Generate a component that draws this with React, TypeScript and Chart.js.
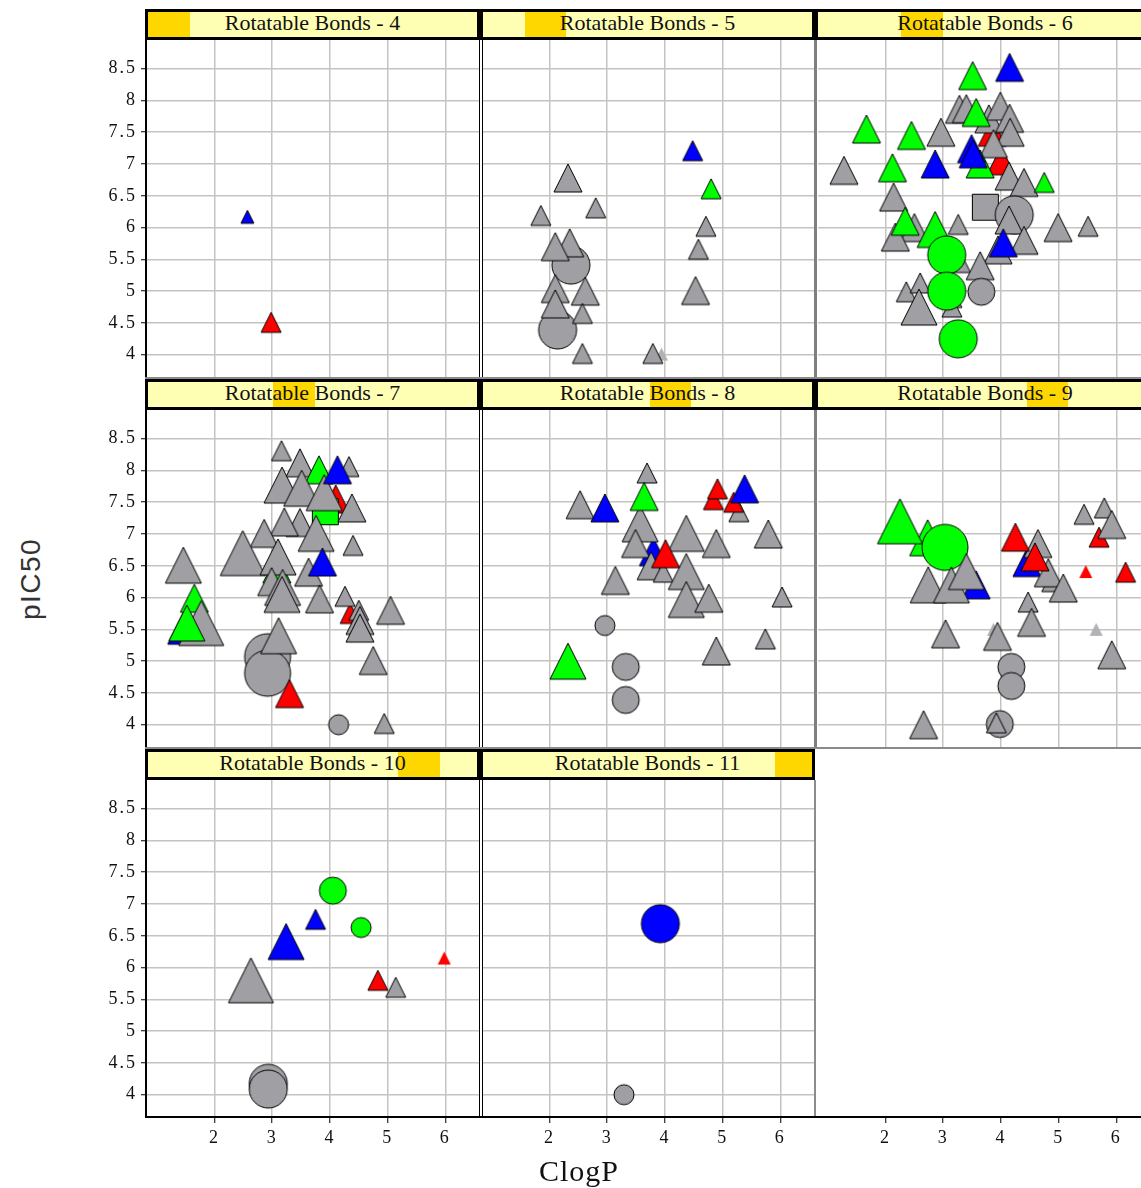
import React, { useEffect, useRef } from 'react';
import { Chart, registerables } from 'chart.js';

Chart.register(...registerables);

// [ClogP, pIC50, sizeClass(0-4), colour (g grey, G green, B blue, R red), shape (t triangle, c circle, s square; upper case = no outline)]
type Pt = [number, number, number, string, string];

const X_TICKS = [2, 3, 4, 5, 6];
const Y_TICKS = [4, 4.5, 5, 5.5, 6, 6.5, 7, 7.5, 8, 8.5];
const X_MIN = 0.83;
const X_MAX = 6.6;
const Y_MIN = 3.65;
const Y_MAX = 8.95;
const BOND_COUNTS = [4, 5, 6, 7, 8, 9, 10, 11];
const X_TITLE = 'ClogP';
const Y_TITLE = 'pIC50';

const rb4: Pt[] = [
  [2.57, 6.17, 0, 'B', 't'],
  [2.98, 4.51, 1, 'R', 't'],
];

const rb5: Pt[] = [
  [2.37, 5.41, 3, 'g', 'c'],
  [2.14, 4.39, 3, 'g', 'c'],
  [1.85, 6.19, 1, 'g', 't'],
  [2.32, 6.78, 2, 'g', 't'],
  [2.80, 6.31, 1, 'g', 't'],
  [2.35, 5.76, 2, 'g', 't'],
  [2.10, 5.70, 2, 'g', 't'],
  [2.62, 5.00, 2, 'g', 't'],
  [2.10, 5.04, 2, 'g', 't'],
  [2.10, 4.80, 2, 'g', 't'],
  [2.57, 4.65, 1, 'g', 't'],
  [2.57, 4.02, 1, 'g', 't'],
  [3.94, 4.01, 0, 'g', 'T'],
  [3.79, 4.02, 1, 'g', 't'],
  [4.53, 5.01, 2, 'g', 't'],
  [4.58, 5.66, 1, 'g', 't'],
  [4.71, 6.02, 1, 'g', 't'],
  [4.80, 6.61, 1, 'G', 't'],
  [4.48, 7.21, 1, 'B', 't'],
];

const rb6: Pt[] = [
  [3.85, 7.50, 2, 'R', 't'],
  [4.00, 7.05, 2, 'R', 't'],
  [1.28, 6.90, 2, 'g', 't'],
  [2.14, 6.48, 2, 'g', 't'],
  [2.50, 6.00, 2, 'g', 't'],
  [2.17, 5.85, 2, 'g', 't'],
  [3.26, 6.05, 1, 'g', 't'],
  [2.96, 7.50, 2, 'g', 't'],
  [3.28, 7.86, 2, 'g', 't'],
  [3.40, 7.87, 2, 'g', 't'],
  [3.79, 7.71, 2, 'g', 't'],
  [3.99, 7.91, 2, 'g', 't'],
  [4.15, 7.72, 2, 'g', 't'],
  [4.16, 7.50, 2, 'g', 't'],
  [3.87, 7.32, 2, 'g', 't'],
  [4.14, 6.81, 2, 'g', 't'],
  [4.40, 6.71, 2, 'g', 't'],
  [3.73, 6.32, 2, 'g', 's'],
  [4.23, 6.20, 3, 'g', 'c'],
  [4.14, 6.12, 2, 'g', 't'],
  [4.99, 6.00, 2, 'g', 't'],
  [5.51, 6.02, 1, 'g', 't'],
  [3.95, 5.65, 2, 'g', 't'],
  [4.40, 5.80, 2, 'g', 't'],
  [3.30, 5.45, 1, 'g', 't'],
  [3.64, 5.40, 2, 'g', 't'],
  [3.66, 4.99, 2, 'g', 'c'],
  [2.36, 4.99, 1, 'g', 't'],
  [2.60, 5.13, 1, 'g', 't'],
  [3.15, 4.90, 1, 'g', 't'],
  [3.15, 4.75, 1, 'g', 't'],
  [2.58, 4.75, 3, 'g', 't'],
  [1.67, 7.55, 2, 'G', 't'],
  [2.45, 7.45, 2, 'G', 't'],
  [2.12, 6.94, 2, 'G', 't'],
  [2.86, 7.00, 2, 'B', 't'],
  [3.51, 8.39, 2, 'G', 't'],
  [4.15, 8.52, 2, 'B', 't'],
  [3.57, 7.81, 2, 'G', 't'],
  [3.64, 7.00, 2, 'G', 't'],
  [3.49, 7.24, 2, 'B', 't'],
  [3.52, 7.16, 2, 'B', 't'],
  [4.75, 6.71, 1, 'G', 't'],
  [2.34, 6.10, 2, 'G', 't'],
  [2.86, 5.97, 3, 'G', 't'],
  [4.04, 5.76, 2, 'B', 't'],
  [3.06, 5.57, 3, 'G', 'c'],
  [3.06, 5.00, 3, 'G', 'c'],
  [3.26, 4.25, 3, 'G', 'c'],
];

const rb7: Pt[] = [
  [4.10, 7.55, 2, 'R', 't'],
  [3.08, 6.45, 2, 'G', 't'],
  [1.50, 5.55, 3, 'B', 't'],
  [3.92, 7.35, 2, 'G', 's'],
  [4.35, 5.75, 1, 'R', 't'],
  [3.16, 8.31, 1, 'g', 't'],
  [3.48, 8.12, 2, 'g', 't'],
  [4.33, 8.06, 1, 'g', 't'],
  [3.81, 8.01, 2, 'G', 't'],
  [3.17, 7.77, 3, 'g', 't'],
  [3.51, 7.72, 3, 'g', 't'],
  [3.90, 7.65, 3, 'g', 't'],
  [4.38, 7.41, 2, 'g', 't'],
  [3.48, 7.18, 2, 'g', 't'],
  [3.21, 7.19, 2, 'g', 't'],
  [2.86, 7.01, 2, 'g', 't'],
  [3.76, 7.01, 3, 'g', 't'],
  [4.40, 6.82, 1, 'g', 't'],
  [2.49, 6.70, 4, 'g', 't'],
  [3.10, 6.64, 3, 'g', 't'],
  [1.46, 6.51, 3, 'g', 't'],
  [3.63, 6.40, 2, 'g', 't'],
  [2.99, 6.25, 2, 'g', 't'],
  [3.18, 6.16, 3, 'g', 't'],
  [3.17, 6.05, 3, 'g', 't'],
  [3.82, 5.98, 2, 'g', 't'],
  [4.26, 6.02, 1, 'g', 't'],
  [4.50, 5.80, 1, 'g', 't'],
  [4.52, 5.64, 2, 'g', 't'],
  [4.52, 5.52, 2, 'g', 't'],
  [5.05, 5.80, 2, 'g', 't'],
  [1.65, 5.99, 2, 'G', 't'],
  [1.77, 5.60, 4, 'g', 't'],
  [2.92, 5.07, 4, 'g', 'c'],
  [2.92, 4.81, 4, 'g', 'c'],
  [3.11, 5.40, 3, 'g', 't'],
  [4.75, 5.01, 2, 'g', 't'],
  [4.15, 4.00, 1, 'g', 'c'],
  [4.94, 4.02, 1, 'g', 't'],
  [4.13, 8.01, 2, 'B', 't'],
  [3.87, 6.56, 2, 'B', 't'],
  [1.52, 5.60, 3, 'G', 't'],
  [3.30, 4.49, 2, 'R', 't'],
];

const rb8: Pt[] = [
  [3.80, 6.72, 2, 'B', 't'],
  [3.69, 7.96, 1, 'g', 't'],
  [2.53, 7.46, 2, 'g', 't'],
  [5.28, 7.35, 1, 'g', 't'],
  [3.57, 7.16, 3, 'g', 't'],
  [5.79, 7.00, 2, 'g', 't'],
  [4.37, 7.01, 3, 'g', 't'],
  [4.89, 6.85, 2, 'g', 't'],
  [3.49, 6.85, 2, 'g', 't'],
  [3.76, 6.50, 2, 'g', 't'],
  [3.97, 6.40, 1, 'g', 't'],
  [4.37, 6.41, 3, 'g', 't'],
  [4.37, 5.97, 3, 'g', 't'],
  [4.76, 5.99, 2, 'g', 't'],
  [3.14, 6.27, 2, 'g', 't'],
  [6.03, 6.01, 1, 'g', 't'],
  [2.96, 5.56, 1, 'g', 'c'],
  [5.74, 5.35, 1, 'g', 't'],
  [4.89, 5.16, 2, 'g', 't'],
  [3.32, 4.91, 2, 'g', 'c'],
  [3.32, 4.39, 2, 'g', 'c'],
  [2.96, 7.41, 2, 'B', 't'],
  [3.64, 7.59, 2, 'G', 't'],
  [4.84, 7.54, 1, 'R', 't'],
  [4.91, 7.71, 1, 'R', 't'],
  [5.19, 7.50, 1, 'R', 't'],
  [5.38, 7.71, 2, 'B', 't'],
  [4.01, 6.69, 2, 'R', 't'],
  [2.32, 5.00, 3, 'G', 't'],
];

const rb9: Pt[] = [
  [3.57, 6.20, 2, 'B', 't'],
  [4.45, 6.55, 2, 'B', 't'],
  [2.73, 6.94, 3, 'G', 't'],
  [3.87, 5.50, 0, 'g', 'T'],
  [2.25, 7.20, 4, 'G', 't'],
  [3.03, 6.79, 4, 'G', 'c'],
  [2.74, 6.20, 3, 'g', 't'],
  [3.14, 6.20, 3, 'g', 't'],
  [3.40, 6.41, 3, 'g', 't'],
  [4.64, 6.85, 2, 'g', 't'],
  [4.88, 6.25, 1, 'g', 't'],
  [4.82, 6.39, 2, 'g', 't'],
  [5.08, 6.15, 2, 'g', 't'],
  [5.44, 7.31, 1, 'g', 't'],
  [5.79, 7.41, 1, 'g', 't'],
  [4.47, 5.93, 1, 'g', 't'],
  [4.53, 5.61, 2, 'g', 't'],
  [3.04, 5.43, 2, 'g', 't'],
  [3.94, 5.39, 2, 'g', 't'],
  [5.65, 5.50, 0, 'g', 'T'],
  [5.92, 5.10, 2, 'g', 't'],
  [4.18, 4.91, 2, 'g', 'c'],
  [4.18, 4.61, 2, 'g', 'c'],
  [2.66, 4.00, 2, 'g', 't'],
  [3.98, 4.01, 2, 'g', 'c'],
  [3.92, 4.03, 1, 'g', 't'],
  [4.25, 6.95, 2, 'R', 't'],
  [4.59, 6.64, 2, 'R', 't'],
  [5.70, 6.95, 1, 'R', 't'],
  [5.92, 7.15, 2, 'g', 't'],
  [5.47, 6.41, 0, 'R', 'T'],
  [6.16, 6.40, 1, 'R', 't'],
];

const rb10: Pt[] = [
  [2.63, 5.80, 4, 'g', 't'],
  [2.93, 4.18, 3, 'g', 'c'],
  [2.93, 4.09, 3, 'g', 'c'],
  [3.24, 6.41, 3, 'B', 't'],
  [3.75, 6.76, 1, 'B', 't'],
  [4.05, 7.21, 2, 'G', 'c'],
  [4.54, 6.63, 1, 'G', 'c'],
  [4.83, 5.80, 1, 'R', 't'],
  [5.14, 5.69, 1, 'g', 't'],
  [5.98, 6.15, 0, 'R', 'T'],
];

const rb11: Pt[] = [
  [3.92, 6.69, 3, 'B', 'c'],
  [3.29, 4.00, 1, 'g', 'c'],
];

const PANEL_DATA: Pt[][] = [rb4, rb5, rb6, rb7, rb8, rb9, rb10, rb11];

// ---- presentation ----
const TRI_SIZES = [13, 20, 28, 36, 45];
const CIRC_SIZES = [14, 20, 27, 38, 46];
const SQ_SIZES = [14, 20, 27, 36, 45];
const FILL: Record<string, string> = { g: '#A0A0A4', G: '#00FF00', B: '#0000FF', R: '#FF0000' };
const GRID = '#C6C4C0';
const SERIF = "'Liberation Serif', 'Times New Roman', serif";

const COL_PLOT_LEFT = [147, 482, 818];
const ROW_PLOT_TOP = [40, 410, 780];
const PW = 333;
const PH = 337;
const YAXIS_W = 87;
const XAXIS_H = 40;
const HEADER_LEFT = [145, 480, 815];
const HEADER_W = [335, 335, 340];
const HEADER_TOP = [9, 379, 749];

const markerCache = new Map<string, HTMLCanvasElement>();
function marker(size: number, col: string, shape: string): HTMLCanvasElement {
  const key = `${size}${col}${shape}`;
  const hit = markerCache.get(key);
  if (hit) return hit;
  const lower = shape.toLowerCase();
  const outlined = shape === lower;
  const s = (lower === 't' ? TRI_SIZES : lower === 'c' ? CIRC_SIZES : SQ_SIZES)[size];
  const pad = 2;
  const c = document.createElement('canvas');
  c.width = s + pad * 2;
  c.height = s + pad * 2;
  const x = c.getContext('2d')!;
  x.fillStyle = !outlined && col === 'g' ? '#B2B2B6' : FILL[col];
  x.beginPath();
  if (lower === 't') {
    x.moveTo(pad + s / 2, pad);
    x.lineTo(pad + s, pad + s);
    x.lineTo(pad, pad + s);
    x.closePath();
  } else if (lower === 'c') {
    x.arc(pad + s / 2, pad + s / 2, s / 2, 0, Math.PI * 2);
  } else {
    x.rect(pad + 0.5, pad + 0.5, s - 1, s - 1);
  }
  x.fill();
  if (outlined) {
    x.lineWidth = 1;
    x.lineJoin = 'round';
    x.strokeStyle = '#000';
    x.stroke();
  }
  markerCache.set(key, c);
  return c;
}

const spacingPlugin = {
  id: 'tickSpacing',
  beforeDraw(chart: any) {
    chart.ctx.letterSpacing = '2px';
  },
};

const zeroPad = (s: any) => {
  s.paddingTop = 0;
  s.paddingBottom = 0;
  s.paddingLeft = 0;
  s.paddingRight = 0;
};

function buildConfig(pts: Pt[], showY: boolean, showX: boolean, axisOnly = false): any {
  const imgs = pts.map((p) => marker(p[2], p[3], p[4]));
  return {
    type: 'scatter',
    data: {
      datasets: [
        {
          data: pts.map((p) => ({ x: p[0], y: p[1] })),
          pointStyle: (c: any) => imgs[c.dataIndex],
          pointRadius: 1,
          pointHoverRadius: 1,
          pointBorderWidth: 0,
          clip: false,
        },
      ],
    },
    options: {
      responsive: false,
      maintainAspectRatio: false,
      animation: false,
      events: [],
      layout: { padding: 0, autoPadding: false },
      plugins: { legend: { display: false }, tooltip: { enabled: false } },
      scales: {
        x: {
          type: 'linear',
          min: X_MIN,
          max: X_MAX,
          afterBuildTicks: (s: any) => {
            s.ticks = X_TICKS.map((v) => ({ value: v }));
          },
          afterFit: (s: any) => {
            s.height = showX ? XAXIS_H : 0;
            zeroPad(s);
          },
          border: { display: false },
          grid: {
            color: GRID,
            lineWidth: 1.5,
            drawOnChartArea: !axisOnly,
            drawTicks: showX,
            tickLength: 6,
            tickColor: '#000',
            tickWidth: 1,
          },
          ticks: {
            display: showX,
            font: { family: SERIF, size: 18 },
            color: '#111',
            padding: 4,
            maxRotation: 0,
            autoSkip: false,
            callback: (v: any) => String(v),
          },
        },
        y: {
          type: 'linear',
          display: !axisOnly,
          min: Y_MIN,
          max: Y_MAX,
          afterBuildTicks: (s: any) => {
            s.ticks = Y_TICKS.map((v) => ({ value: v }));
          },
          afterFit: (s: any) => {
            s.width = showY ? YAXIS_W : 0;
            zeroPad(s);
          },
          border: { display: false },
          grid: {
            color: GRID,
            lineWidth: 1.5,
            drawTicks: showY,
            tickLength: 6,
            tickColor: '#000',
            tickWidth: 1,
          },
          ticks: {
            display: showY,
            font: { family: SERIF, size: 18 },
            color: '#111',
            padding: 4,
            autoSkip: false,
            callback: (v: any) => String(v),
          },
        },
      },
    },
    plugins: [spacingPlugin],
  };
}

export default function App() {
  const refs = useRef<(HTMLCanvasElement | null)[]>([]);
  const axisRef = useRef<HTMLCanvasElement | null>(null);

  useEffect(() => {
    const charts: Chart[] = [];
    PANEL_DATA.forEach((pts, i) => {
      const col = i % 3;
      const row = Math.floor(i / 3);
      const cv = refs.current[i];
      if (cv) charts.push(new Chart(cv, buildConfig(pts, col === 0, row === 2)));
    });
    if (axisRef.current) charts.push(new Chart(axisRef.current, buildConfig([], false, true, true)));
    return () => charts.forEach((c) => c.destroy());
  }, []);

  const line = (l: number, t: number, w: number, h: number, bg: string, k: string) => (
    <div key={k} style={{ position: 'absolute', left: l, top: t, width: w, height: h, background: bg }} />
  );

  return (
    <div
      style={{
        position: 'absolute',
        left: 0,
        top: 0,
        width: 1141,
        height: 1188,
        overflow: 'hidden',
        background: '#fff',
      }}
    >
      {PANEL_DATA.map((_, i) => {
        const col = i % 3;
        const row = Math.floor(i / 3);
        const showY = col === 0;
        const showX = row === 2;
        const w = PW + (showY ? YAXIS_W : 0);
        const h = PH + (showX ? XAXIS_H : 0);
        return (
          <canvas
            key={'c' + i}
            ref={(el) => {
              refs.current[i] = el;
            }}
            width={w}
            height={h}
            style={{
              position: 'absolute',
              left: COL_PLOT_LEFT[col] - (showY ? YAXIS_W : 0),
              top: ROW_PLOT_TOP[row],
              width: w,
              height: h,
            }}
          />
        );
      })}
      <canvas
        ref={axisRef}
        width={PW}
        height={XAXIS_H + 10}
        style={{ position: 'absolute', left: 818, top: 1107, width: PW, height: XAXIS_H + 10 }}
      />

      {line(145, 9, 2, 1109, '#000', 'l0')}
      {line(479, 40, 1, 1077, '#000', 'l1')}
      {line(482, 40, 1, 1077, '#000', 'l2')}
      {line(814, 40, 3, 707, '#7F7F7F', 'l3')}
      {line(814, 780, 2, 337, '#8C8C8C', 'l4')}
      {line(145, 377, 996, 2, '#8A8A8A', 'l5')}
      {line(145, 747, 996, 2, '#8A8A8A', 'l6')}
      {line(145, 1116, 996, 2, '#000', 'l7')}

      {BOND_COUNTS.map((n, i) => {
        const col = i % 3;
        const row = Math.floor(i / 3);
        return (
          <div
            key={'h' + i}
            style={{
              position: 'absolute',
              left: HEADER_LEFT[col],
              top: HEADER_TOP[row],
              width: HEADER_W[col],
              height: 31,
              boxSizing: 'border-box',
              border: '3px solid #000',
              background: '#FFFFB4',
              overflow: 'hidden',
            }}
          >
            <div
              style={{
                position: 'absolute',
                left: (n - 4) * 41.7,
                top: 0,
                width: 41.7,
                height: '100%',
                background: '#FFD700',
              }}
            />
            <div
              style={{
                position: 'relative',
                textAlign: 'center',
                fontFamily: SERIF,
                fontSize: 22,
                lineHeight: '21px',
                color: '#111',
                whiteSpace: 'nowrap',
              }}
            >
              {`Rotatable Bonds - ${n}`}
            </div>
          </div>
        );
      })}

      <div
        style={{
          position: 'absolute',
          left: 31,
          top: 579,
          transform: 'translate(-50%, -50%) rotate(-90deg)',
          fontFamily: "'Liberation Sans', Arial, sans-serif",
          fontSize: 28,
          letterSpacing: '1.5px',
          color: '#333',
          whiteSpace: 'nowrap',
        }}
      >
        {Y_TITLE}
      </div>
      <div
        style={{
          position: 'absolute',
          left: 579,
          top: 1156,
          transform: 'translateX(-50%)',
          fontFamily: SERIF,
          fontSize: 30,
          lineHeight: '30px',
          letterSpacing: '1px',
          color: '#111',
          whiteSpace: 'nowrap',
        }}
      >
        {X_TITLE}
      </div>
    </div>
  );
}
